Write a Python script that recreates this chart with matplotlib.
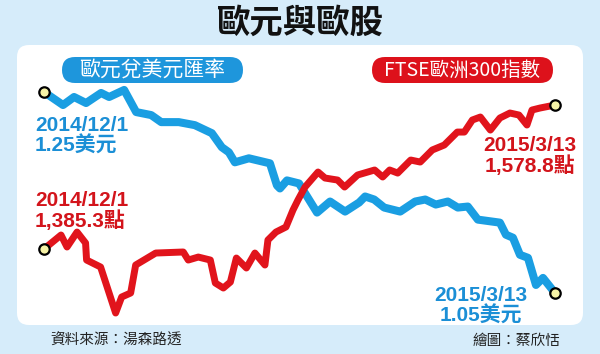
import matplotlib.pyplot as plt
from matplotlib.patches import FancyBboxPatch

plt.rcParams['font.family'] = ['Noto Sans CJK TC', 'DejaVu Sans']

# 歐元兌美元匯率 (days after 2014/12/1)
usd_days = [0, 3.8, 6.0, 8.4, 11.4, 13.0, 16.0, 18.4, 21.4, 23.4, 26.9, 30.1,
            33.5, 35.5, 36.9, 38.1, 40.9, 45.1, 46.5, 47.1, 48.5, 50.9, 54.5,
            57.1, 60.1, 62.9, 64.1, 65.9, 67.9, 71.1, 74.1, 76.1, 78.2, 80.6,
            82.6, 84.6, 86.6, 91.0, 92.2, 93.6, 95.0, 96.6, 98.2, 99.6, 102]
usd_rate = [1.250, 1.237, 1.245, 1.239, 1.249, 1.245, 1.252, 1.230, 1.227,
            1.220, 1.220, 1.217, 1.209, 1.195, 1.190, 1.180, 1.184, 1.179,
            1.157, 1.154, 1.162, 1.159, 1.130, 1.141, 1.131, 1.140, 1.146,
            1.143, 1.135, 1.131, 1.141, 1.143, 1.138, 1.141, 1.135, 1.136,
            1.123, 1.120, 1.108, 1.105, 1.088, 1.085, 1.058, 1.065, 1.050]

# FTSE歐洲300指數
ftse_days = [0, 3.4, 4.6, 6.6, 8.3, 8.5, 11.3, 14.3, 15.5, 17.3, 18.3, 22.3,
             27.8, 28.8, 30.8, 33.2, 34.2, 35.8, 37.2, 38.4, 40.4, 42.1, 44.1,
             44.7, 46.3, 48.3, 49.7, 50.7, 52.1, 54.7, 56.1, 58.6, 60.0, 62.6,
             66.0, 67.6, 69.0, 70.6, 73.2, 75.1, 77.5, 79.9, 82.5, 83.9, 85.5,
             87.1, 89.1, 91.0, 93.0, 94.8, 96.4, 97.4, 99.0, 102]
ftse_index = [1385.3, 1404.1, 1388.0, 1408.1, 1393.4, 1370.5, 1361.1, 1299.3,
              1320.8, 1326.2, 1363.8, 1379.9, 1381.3, 1370.5, 1374.5, 1370.5,
              1339.6, 1332.9, 1340.9, 1373.2, 1359.8, 1379.9, 1363.8, 1397.4,
              1408.1, 1414.9, 1437.7, 1451.2, 1468.6, 1488.8, 1480.7, 1478.0,
              1468.6, 1484.8, 1491.5, 1482.1, 1491.5, 1487.4, 1504.9, 1502.2,
              1518.4, 1525.1, 1542.5, 1542.5, 1558.7, 1562.7, 1545.2, 1561.4,
              1568.1, 1565.4, 1552.0, 1572.1, 1574.8, 1578.8]

BG = '#d6ecfa'
BLUE = '#1a9ee2'
RED = '#e1141c'
W, H = 600, 354


def px(x, y):
    return x / W, 1 - y / H


fig = plt.figure(figsize=(6, 3.54), dpi=100, facecolor=BG)

# white panel
panel = FancyBboxPatch(px(17, 325), 566 / W, 280 / H, transform=fig.transFigure,
                       boxstyle='round,pad=0,rounding_size=0.02',
                       mutation_aspect=W / H, fc='white', ec='none', zorder=-1)
fig.patches.append(panel)

ax = fig.add_axes([0, 0, 1, 1])
ax.set_facecolor('none')
ax.plot(usd_days, usd_rate, color=BLUE, lw=5.8, solid_joinstyle='round',
        solid_capstyle='butt')
ax.plot([usd_days[0], usd_days[-1]], [usd_rate[0], usd_rate[-1]], 'o', ms=7.5,
        mfc='#f6f3a6', mec='black', mew=1.6)
ax.set_xlim(-8.78, 110.98)
ax.set_ylim(0.9893, 1.3415)
ax.axis('off')

ax2 = ax.twinx()
ax2.plot(ftse_days, ftse_index, color=RED, lw=5.0, solid_joinstyle='round',
         solid_capstyle='butt')
ax2.plot([ftse_days[0], ftse_days[-1]], [ftse_index[0], ftse_index[-1]], 'o',
         ms=7.5, mfc='#f6f3a6', mec='black', mew=1.6)
ax2.set_ylim(1244.2, 1720.0)
ax2.axis('off')

# title
fig.text(*px(300, 23), '歐元與歐股', ha='center', va='center', fontsize=24,
         fontweight='heavy', color='#111111')

# pills
for x0, x1, col, label, fs in [(62, 243, '#1e96dc', '歐元兌美元匯率', 15),
                               (372, 553, '#dd111b', 'FTSE歐洲300指數', 14)]:
    pill = FancyBboxPatch(px(x0, 83), (x1 - x0) / W, 26 / H,
                          transform=fig.transFigure,
                          boxstyle='round,pad=0,rounding_size=0.0217',
                          mutation_aspect=W / H, fc=col, ec='none', zorder=1)
    fig.patches.append(pill)
    fig.text(*px((x0 + x1) / 2, 70), label, ha='center', va='center',
             fontsize=fs, color='white')

lab = dict(fontsize=15, fontweight='bold', linespacing=1.05,
           family=['Liberation Sans', 'Noto Sans CJK TC'])
fig.text(*px(35, 116), '2014/12/1\n1.25美元', ha='left', va='top',
         color='#1b8fd6', **lab)
fig.text(*px(35, 191), '2014/12/1\n1,385.3點', ha='left', va='top',
         color='#d3141b', **lab)
fig.text(*px(530, 136), '2015/3/13\n1,578.8點', ha='center', va='top',
         color='#d3141b', **lab)
fig.text(*px(481, 286), '2015/3/13\n1.05美元', ha='center', va='top',
         color='#1b8fd6', **lab)

# footer
fig.text(*px(50, 341), '資料來源：湯森路透', ha='left', va='center',
         fontsize=10.5, color='#222222')
fig.text(*px(560, 341), '繪圖：蔡欣恬', ha='right', va='center',
         fontsize=10.5, color='#222222')

fig.savefig('out.png', dpi=100, facecolor=BG)
